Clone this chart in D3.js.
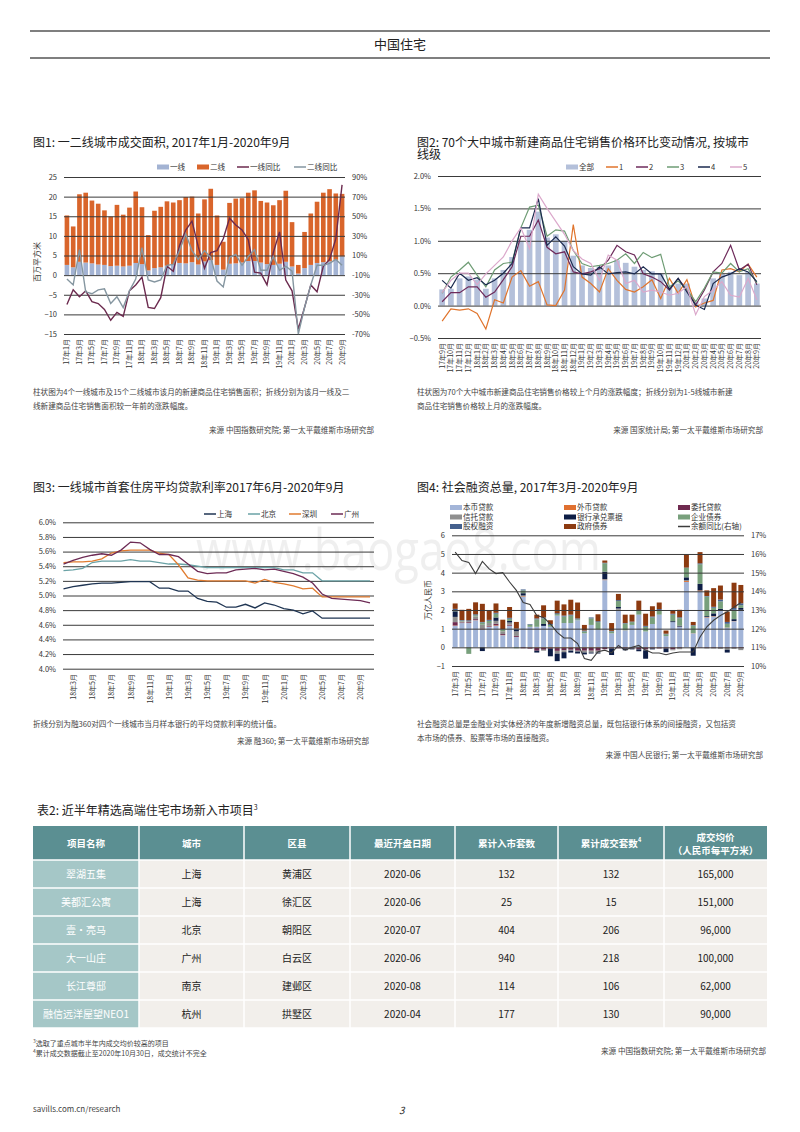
<!DOCTYPE html>
<html>
<head>
<meta charset="utf-8">
<script src="https://cdn.jsdelivr.net/npm/d3@7"></script>
<style>
body { margin: 0; background: #fff; }
svg text { font-family: "Noto Sans CJK SC", "Noto Sans", sans-serif; }
</style>
</head>
<body>
<svg id="page" width="800" height="1132"></svg>
<script>
function monthList(y, m, n) {
  var out = [];
  for (var i = 0; i < n; i++) {
    out.push(String(y).slice(2) + "年" + m + "月");
    m++; if (m > 12) { m = 1; y++; }
  }
  return out;
}

// ---- chart 1 : 一二线城市成交面积 ----
var c1Months = monthList(2017, 1, 45);
var c1Tier1 = [2.6,2.0,3.4,3.2,3.0,2.7,2.6,2.3,2.4,2.2, 2.4,3.1,2.8,1.2,1.8,2.0,2.4,2.7,3.1,3.0,
  3.3,2.7,3.5,3.8,2.6,1.4,2.9,3.0,3.2,3.6, 3.6,3.2,2.8,2.6,2.9,3.4,2.2,0.4,1.8,2.6, 3.1,3.3,3.5,3.9,4.8];
var c1Tier2 = [12.6,10.4,17.2,17.8,16.0,15.5,13.9,12.6,15.5,13.2, 14.8,18.2,14.5,9.0,14.6,15.4,16.4,15.8,16.0,16.9,
  16.7,13.0,15.8,18.2,12.6,7.1,15.5,16.5,16.4,17.4, 18.0,15.7,15.7,15.2,16.2,18.1,11.3,2.2,9.2,13.1, 15.6,17.7,18.4,16.9,15.9];
var c1Tier1Yoy = [-40,-25,-32,-26,-37,-39,-45,-56,-48,-52, -26,-20,-12,-43,-44,-33,-1,-6,20,36,
  45,19,-3,13,15,27,48,41,36,26, -7,-8,-20,13,34,-15,-26,-65,-43,-20, -27,-1,6,27,82];
var c1Tier2Yoy = [-14,-20,16,-27,-29,-25,-24,-39,-32,-43, -26,-14,18,-15,-17,-15,0,1,15,32,
  15,6,15,8,-16,-22,8,11,0,9, 16,-5,-5,9,-5,-1,-6,-70,-43,-20, 0,0,2,6,0];
var c1LeftTicks = [-15,-10,-5,0,5,10,15,20,25];
var c1RightTicks = [-70,-50,-30,-10,10,30,50,70,90];

// ---- chart 2 : 70城环比 ----
var c2Months = monthList(2017, 9, 37);
var c2All = [0.25,0.26,0.42,0.45,0.40,0.26,0.42,0.55,0.75,1.00, 1.17,1.45,1.05,1.10,1.00,0.77,0.62,0.58,0.60,0.62,
  0.70,0.66,0.60,0.55,0.53,0.49,0.29,0.34,0.34,0.06, 0.11,0.42,0.49,0.52,0.47,0.52,0.34];
var c2Tier1 = [-0.24,-0.05,-0.07,-0.05,-0.12,-0.36,0.09,0.04,0.44,0.54, 0.30,0.37,0.01,0.00,0.24,1.25,0.44,0.34,0.21,0.57,
  0.39,0.25,0.21,0.29,0.40,0.11,0.42,0.19,0.40,-0.02, 0.04,0.08,0.55,0.57,0.52,0.64,0.44];
var c2Tier2 = [0.06,0.20,0.20,0.29,0.29,0.13,0.21,0.40,0.60,1.07, 1.07,1.32,0.90,0.80,0.83,0.52,0.49,0.52,0.57,0.70,
  0.93,0.83,0.78,0.49,0.44,0.37,0.24,0.42,0.24,0.01, 0.24,0.52,0.65,0.93,0.55,0.64,0.32];
var c2Tier3 = [0.19,0.44,0.55,0.67,0.47,0.29,0.55,0.65,0.67,1.20, 1.52,1.55,1.07,1.17,1.15,0.85,0.65,0.60,0.62,0.65,
  0.70,0.80,0.65,0.82,0.74,0.79,0.29,0.38,0.25,0.06, 0.27,0.52,0.50,0.65,0.52,0.57,0.35];
var c2Tier4 = [0.39,0.27,0.50,0.39,0.43,0.32,0.39,0.50,0.65,1.20, 1.20,1.65,0.93,1.06,0.92,0.60,0.49,0.47,0.60,0.49,
  0.51,0.52,0.49,0.60,0.49,0.49,0.25,0.42,0.21,0.01, -0.06,0.34,0.44,0.49,0.57,0.52,0.37];
var c2Tier5 = [0.20,0.39,0.50,0.50,0.32,0.49,0.62,0.75,1.00,1.20, 0.88,1.72,1.50,1.30,1.10,0.85,0.72,0.65,0.39,0.78,
  0.70,0.34,0.39,0.21,0.24,0.21,0.16,0.19,0.29,-0.14, 0.14,0.24,0.37,0.16,0.13,0.42,0.09];
var c2Ticks = [-0.5,0,0.5,1.0,1.5,2.0];
var c2SeriesNames = ["1","2","3","4","5"];

// ---- chart 3 : 首套房贷利率 ----
var c3Months = monthList(2018, 2, 33);
var c3Shanghai = [5.09,5.12,5.14,5.16,5.17,5.17,5.18,5.19,5.19,5.19, 5.10,5.10,5.06,5.06,4.96,4.92,4.91,4.84,4.84,4.88,
  4.83,4.90,4.87,4.82,4.80,4.75,4.79,4.69,4.69,4.69, 4.69,4.69,4.69];
var c3Beijing = [5.34,5.35,5.37,5.45,5.47,5.47,5.47,5.49,5.47,5.47, 5.45,5.43,5.43,5.42,5.40,5.38,5.38,5.38,5.38,5.38,
  5.38,5.38,5.38,5.35,5.35,5.31,5.31,5.20,5.20,5.20, 5.20,5.20,5.20];
var c3Shenzhen = [5.45,5.46,5.46,5.47,5.50,5.58,5.61,5.62,5.62,5.62, 5.58,5.56,5.42,5.24,5.21,5.20,5.20,5.20,5.20,5.20,
  5.17,5.22,5.18,5.16,5.13,5.09,5.10,4.98,4.98,4.98, 4.98,4.98,4.98];
var c3Guangzhou = [5.43,5.48,5.52,5.55,5.57,5.55,5.62,5.73,5.72,5.63, 5.56,5.56,5.53,5.43,5.33,5.30,5.31,5.31,5.35,5.36,
  5.37,5.35,5.36,5.33,5.30,5.25,5.17,5.02,4.96,4.95, 4.94,4.93,4.90];
var c3Ticks = [4.0,4.2,4.4,4.6,4.8,5.0,5.2,5.4,5.6,5.8,6.0];
var c3Cities = ["上海","北京","深圳","广州"];

// ---- chart 4 : 社会融资总量 ----
var c4Months = monthList(2017, 3, 43);
var c4Keys = ["本币贷款","外币贷款","委托贷款","信托贷款","银行承兑票据","企业债券","股权融资","政府债券"];
var c4Loans = [1.15,1.30,1.30,1.45,0.95,1.10,1.15,0.65,1.15,0.55, 2.70,1.10,1.10,1.15,1.10,1.70,1.30,1.30,1.45,0.75,
  1.20,0.95,3.60,0.75,2.00,0.90,1.20,1.75,0.85,1.25, 1.75,0.60,1.35,1.10,3.50,0.75,3.00,1.60,1.65,1.95, 1.05,1.40,2.00];
var c4FxLoans = [0.02,0.01,0.01,0.01,0.01,0.01,0.03,0.01,0.01,0.01, 0.03,-0.02,-0.03,-0.03,-0.03,-0.04,-0.04,-0.03,-0.03,-0.03,
  -0.03,-0.03,0.02,-0.01,0.01,-0.01,-0.01,-0.01,-0.01,-0.01, -0.01,-0.01,-0.01,0.01,0.05,0.01,0.05,0.02,0.02,0.01, 0.01,0.01,0.01];
var c4Entrusted = [0.18,0.03,0.04,0.05,0.05,0.04,0.08,0.05,0.05,0.05, -0.05,-0.05,-0.15,-0.10,-0.05,-0.15,-0.12,-0.10,-0.15,-0.15,
  -0.15,-0.15,-0.10,-0.05,-0.05,-0.05,-0.05,-0.10,-0.10,-0.05, -0.05,-0.05,-0.10,-0.05,0.00,-0.02,-0.02,-0.03,-0.03,-0.03, -0.03,-0.03,-0.05];
var c4Trust = [0.28,0.05,0.05,0.15,0.20,0.15,0.16,0.15,0.12,0.25, 0.05,0.00,0.00,-0.05,0.00,-0.15,-0.10,-0.05,-0.05,-0.10,
  -0.10,-0.10,0.03,0.00,0.07,0.02,0.00,0.00,-0.05,0.00, 0.00,0.00,-0.05,-0.05,0.05,0.00,0.00,-0.03,-0.03,-0.05, -0.10,-0.05,-0.10];
var c4Bills = [0.30,0.00,0.00,0.00,-0.20,0.00,0.18,0.00,0.08,0.08, 0.12,0.00,-0.10,0.10,-0.40,-0.40,-0.33,-0.10,-0.10,-0.10,
  -0.05,-0.05,0.40,-0.35,0.08,-0.10,-0.05,-0.10,-0.45,-0.05, 0.00,-0.20,0.05,0.05,0.15,-0.43,0.35,0.05,0.15,0.10, -0.15,0.10,0.10];
var c4CorpBonds = [0.05,0.04,-0.35,0.06,0.12,0.12,0.20,0.10,0.12,-0.05, 0.15,0.12,0.40,0.30,0.10,0.08,0.35,0.40,0.05,0.10,
  0.35,0.40,0.45,0.10,0.32,0.35,0.15,0.20,0.25,0.35, 0.25,0.10,0.35,0.40,0.50,0.40,1.05,1.05,0.30,0.40, 0.20,0.50,0.15];
var c4Equity = [0.08,0.03,0.05,0.05,0.03,0.05,0.05,0.02,0.05,0.07, 0.05,0.03,0.05,0.05,0.05,0.05,0.05,0.05,0.05,0.05,
  0.05,0.05,0.03,0.03,0.05,0.03,0.03,0.05,0.05,0.05, 0.05,0.03,0.05,0.05,0.02,0.03,0.05,0.03,0.05,0.10, 0.10,0.10,0.10];
var c4GovBonds = [0.29,0.55,0.61,0.64,0.97,0.51,0.50,0.50,0.58,0.35, 0.00,0.00,0.20,0.65,0.20,0.67,0.60,0.80,0.85,0.30,
  0.00,0.37,0.12,0.42,0.33,0.45,0.37,0.50,0.65,0.55, 0.35,0.17,0.20,0.40,0.70,0.17,0.60,0.30,1.00,0.75, 0.55,1.35,0.98];
var c4Yoy = [16.1,15.65,15.55,14.95,15.6,15.2,14.95,15.0,14.5,14.05, 13.4,13.3,12.7,12.6,12.25,11.8,11.5,11.5,11.2,10.4,
  10.3,10.77,10.85,10.7,11.1,10.85,11.0,11.1,10.85,10.7, 10.7,10.6,10.7,10.75,10.75,10.75,11.55,12.1,12.45,12.7, 12.9,13.15,13.4];
var c4LeftTicks = [-1,0,1,2,3,4,5,6];
var c4RightTicks = [10,11,12,13,14,15,16,17];

// ---- table ----
var tblHead = ["项目名称","城市","区县","最近开盘日期","累计入市套数","累计成交套数","成交均价"];
var tblNames = ["翠湖五集","美都汇公寓","壹·亮马","大一山庄","长江尊邸","融信远洋屋望NEO1"];
var tblCity = ["上海","上海","北京","广州","南京","杭州"];
var tblDistrict = ["黄浦区","徐汇区","朝阳区","白云区","建邺区","拱墅区"];
var tblDate = ["2020-06","2020-06","2020-07","2020-06","2020-08","2020-04"];
var tblUnits = [132,25,404,940,114,177];
var tblSold = [132,15,206,218,106,130];
var tblPrice = [165000,151000,96000,100000,62000,90000];

var svg = d3.select("#page");
var GRID = "#3a3a3a", TXT = "#333";

// ---------- helpers ----------
function gridLines(g, y, ticks, x0, x1) {
  var ax = g.append("g").attr("transform", "translate(" + x0 + ",0)")
    .call(d3.axisLeft(y).tickValues(ticks).tickSize(-(x1 - x0)).tickFormat(""));
  ax.select(".domain").remove();
  ax.selectAll(".tick line").attr("stroke", GRID).attr("stroke-width", 1);
}
function tickLabels(g, axis, x) {
  var ax = g.append("g").attr("transform", "translate(" + x + ",0)")
    .call(axis.tickSize(0).tickPadding(7));
  ax.attr("font-size", 7.5);
  ax.select(".domain").remove();
  ax.selectAll("text").attr("fill", TXT);
}
function monthLabels(g, x, ticks, y0) {
  var ax = g.append("g").attr("transform", "translate(0," + y0 + ")")
    .call(d3.axisBottom(x).tickValues(ticks).tickSize(0));
  ax.attr("font-size", 7);
  ax.select(".domain").remove();
  ax.selectAll("text")
    .attr("transform", "rotate(-90)")
    .attr("x", -5).attr("y", 0).attr("dy", "0.35em")
    .attr("text-anchor", "end").attr("fill", TXT);
}
function title(x, y, s) {
  return svg.append("text").attr("x", x).attr("y", y).attr("font-size", 12).attr("fill", "#222").text(s);
}
function note(x, y, s, anchor) {
  svg.append("text").attr("x", x).attr("y", y).attr("font-size", 7.6).attr("fill", "#444")
    .attr("text-anchor", anchor || "start").text(s);
}
function legendRect(g, x, y, color, label) {
  g.append("rect").attr("x", x).attr("y", y - 2.5).attr("width", 12).attr("height", 5).attr("fill", color);
  g.append("text").attr("x", x + 13).attr("y", y).attr("dy", "0.35em").attr("font-size", 7.6).attr("fill", TXT).text(label);
}
function legendLine(g, x, y, color, label, w) {
  g.append("line").attr("x1", x).attr("x2", x + (w || 12)).attr("y1", y).attr("y2", y)
    .attr("stroke", color).attr("stroke-width", 1.5);
  g.append("text").attr("x", x + (w || 12) + 1).attr("y", y).attr("dy", "0.35em").attr("font-size", 7.6).attr("fill", TXT).text(label);
}
function sup(t, s, size) {
  t.append("tspan").attr("font-size", size || 6).attr("dy", -5).text(s);
}

// ---------- page header ----------
svg.append("line").attr("x1", 30).attr("x2", 770).attr("y1", 31).attr("y2", 31).attr("stroke", "#555").attr("stroke-width", 1.5);
svg.append("line").attr("x1", 30).attr("x2", 770).attr("y1", 58).attr("y2", 58).attr("stroke", "#555").attr("stroke-width", 1.5);
svg.append("text").attr("x", 400).attr("y", 49).attr("text-anchor", "middle").attr("font-size", 13).attr("fill", "#222").text("中国住宅");

// watermark
svg.append("text").attr("x", 196).attr("y", 570).attr("font-size", 56).attr("fill", "#000").attr("opacity", 0.06)
  .attr("textLength", 405).attr("lengthAdjust", "spacingAndGlyphs")
  .style("font-family", "'Open Sans', sans-serif").text("www.baogao8.com");

// ---------- chart 1 ----------
title(33, 147, "图1: 一二线城市成交面积, 2017年1月-2020年9月");
var g1 = svg.append("g");
var x1 = d3.scaleBand().domain(c1Months).range([64, 345]).paddingInner(0.26).paddingOuter(0.1);
var y1 = d3.scaleLinear().domain([-15, 25]).range([334, 177]);
var y1r = d3.scaleLinear().domain([-70, 90]).range([334, 177]);

g1.append("g").selectAll("rect").data(c1Months).join("rect")
  .attr("x", function (d) { return x1(d); }).attr("width", x1.bandwidth())
  .attr("y", function (d, i) { return y1(c1Tier1[i]); })
  .attr("height", function (d, i) { return y1(0) - y1(c1Tier1[i]); })
  .attr("fill", "#a3b3d3");
g1.append("g").selectAll("rect").data(c1Months).join("rect")
  .attr("x", function (d) { return x1(d); }).attr("width", x1.bandwidth())
  .attr("y", function (d, i) { return y1(c1Tier1[i] + c1Tier2[i]); })
  .attr("height", function (d, i) { return y1(c1Tier1[i]) - y1(c1Tier1[i] + c1Tier2[i]); })
  .attr("fill", "#d9652b");
gridLines(g1, y1, c1LeftTicks, 64, 345);
tickLabels(g1, d3.axisLeft(y1).tickValues(c1LeftTicks).tickFormat(d3.format("d")), 64);
tickLabels(g1, d3.axisRight(y1r).tickValues(c1RightTicks).tickFormat(function (d) { return d + "%"; }), 345);
monthLabels(g1, x1, c1Months.filter(function (d, i) { return i % 2 === 0; }), 334);

var line1 = d3.line().x(function (d, i) { return x1(c1Months[i]) + x1.bandwidth() / 2; }).y(function (d) { return y1r(d); });
g1.append("path").datum(c1Tier1Yoy).attr("d", line1).attr("fill", "none").attr("stroke", "#6b2a4e").attr("stroke-width", 1.4);
g1.append("path").datum(c1Tier2Yoy).attr("d", line1).attr("fill", "none").attr("stroke", "#8596a0").attr("stroke-width", 1.4);

g1.append("text").attr("transform", "translate(40,262) rotate(-90)").attr("text-anchor", "middle")
  .attr("font-size", 8).attr("fill", TXT).text("百万平方米");
legendRect(g1, 157, 167, "#a3b3d3", "一线");
legendRect(g1, 197, 167, "#d9652b", "二线");
legendLine(g1, 237, 167, "#6b2a4e", "一线同比");
legendLine(g1, 294, 167, "#8596a0", "二线同比");

note(33, 395, "柱状图为4个一线城市及15个二线城市该月的新建商品住宅销售面积；折线分别为该月一线及二");
note(33, 409, "线新建商品住宅销售面积较一年前的涨跌幅度。");
note(374, 433, "来源  中国指数研究院; 第一太平戴维斯市场研究部", "end");

// ---------- chart 2 ----------
title(417, 147, "图2:  70个大中城市新建商品住宅销售价格环比变动情况, 按城市");
title(417, 159, "线级");
var g2 = svg.append("g");
var x2 = d3.scaleBand().domain(c2Months).range([438, 761]).paddingInner(0.35).paddingOuter(0.15);
var y2 = d3.scaleLinear().domain([-0.5, 2.0]).range([338, 176]);
g2.append("g").selectAll("rect").data(c2Months).join("rect")
  .attr("x", function (d) { return x2(d); }).attr("width", x2.bandwidth())
  .attr("y", function (d, i) { return Math.min(y2(c2All[i]), y2(0)); })
  .attr("height", function (d, i) { return Math.abs(y2(0) - y2(c2All[i])); })
  .attr("fill", "#b4c0da");
gridLines(g2, y2, c2Ticks, 438, 761);
tickLabels(g2, d3.axisLeft(y2).tickValues(c2Ticks).tickFormat(function (d) { return d3.format(".1f")(d) + "%"; }), 438);
monthLabels(g2, x2, c2Months, 338);

var c2Colors = ["#e0742c", "#6e2b5b", "#6e9c74", "#1b2a4f", "#dba8cb"];
var c2Series = [c2Tier1, c2Tier2, c2Tier3, c2Tier4, c2Tier5];
var line2 = d3.line().x(function (d, i) { return x2(c2Months[i]) + x2.bandwidth() / 2; }).y(function (d) { return y2(d); });
c2Series.forEach(function (s, k) {
  g2.append("path").datum(s).attr("d", line2).attr("fill", "none").attr("stroke", c2Colors[k]).attr("stroke-width", 1.2);
});
legendRect(g2, 566, 167, "#b4c0da", "全部");
legendLine(g2, 606, 167, c2Colors[0], c2SeriesNames[0]);
legendLine(g2, 636, 167, c2Colors[1], c2SeriesNames[1]);
legendLine(g2, 667, 167, c2Colors[2], c2SeriesNames[2]);
legendLine(g2, 698, 167, c2Colors[3], c2SeriesNames[3]);
legendLine(g2, 730, 167, c2Colors[4], c2SeriesNames[4]);

note(417, 395, "柱状图为70个大中城市新建商品住宅销售价格较上个月的涨跌幅度；折线分别为1-5线城市新建");
note(417, 409, "商品住宅销售价格较上月的涨跌幅度。");
note(763, 433, "来源  国家统计局; 第一太平戴维斯市场研究部", "end");

// ---------- chart 3 ----------
title(33, 492, "图3: 一线城市首套住房平均贷款利率2017年6月-2020年9月");
var g3 = svg.append("g");
var x3 = d3.scalePoint().domain(c3Months).range([63.5, 370]);
var y3 = d3.scaleLinear().domain([4.0, 6.0]).range([668.7, 522.3]);
gridLines(g3, y3, c3Ticks, 63, 374);
tickLabels(g3, d3.axisLeft(y3).tickValues(c3Ticks).tickFormat(function (d) { return d3.format(".1f")(d) + "%"; }), 63);
monthLabels(g3, x3, c3Months.filter(function (d, i) { return i % 2 === 1; }), 669);
var c3Colors = ["#1f3553", "#6aa2a6", "#e07b2f", "#6d2b55"];
var c3Series = [c3Shanghai, c3Beijing, c3Shenzhen, c3Guangzhou];
var line3 = d3.line().x(function (d, i) { return x3(c3Months[i]); }).y(function (d) { return y3(d); });
c3Series.forEach(function (s, k) {
  g3.append("path").datum(s).attr("d", line3).attr("fill", "none").attr("stroke", c3Colors[k]).attr("stroke-width", 1.3);
});
legendLine(g3, 204, 514, c3Colors[0], c3Cities[0]);
legendLine(g3, 248, 514, c3Colors[1], c3Cities[1]);
legendLine(g3, 289, 514, c3Colors[2], c3Cities[2]);
legendLine(g3, 331, 514, c3Colors[3], c3Cities[3]);

note(33, 727, "折线分别为融360对四个一线城市当月样本银行的平均贷款利率的统计值。");
note(369, 744, "来源  融360; 第一太平戴维斯市场研究部", "end");

// ---------- chart 4 ----------
title(417, 492, "图4: 社会融资总量, 2017年3月-2020年9月");
var g4 = svg.append("g");
var x4 = d3.scaleBand().domain(c4Months).range([452, 744]).paddingInner(0.27).paddingOuter(0.1);
var y4 = d3.scaleLinear().domain([-1, 6]).range([666, 535.3]);
var y4r = d3.scaleLinear().domain([10, 17]).range([666, 535.3]);
var c4Colors = ["#a3b5d8", "#e07030", "#6f2a4f", "#8f8f8f", "#0d1d45", "#78a07c", "#45618e", "#8c3a10"];
var c4Cols = [c4Loans, c4FxLoans, c4Entrusted, c4Trust, c4Bills, c4CorpBonds, c4Equity, c4GovBonds];
var c4Table = c4Months.map(function (m, i) {
  var row = { month: m };
  c4Keys.forEach(function (k, j) { row[k] = c4Cols[j][i]; });
  return row;
});
var c4Stack = d3.stack().keys(c4Keys).offset(d3.stackOffsetDiverging)(c4Table);
g4.append("g").selectAll("g").data(c4Stack).join("g")
  .attr("fill", function (d, j) { return c4Colors[j]; })
  .selectAll("rect").data(function (d) { return d; }).join("rect")
  .attr("x", function (d) { return x4(d.data.month); }).attr("width", x4.bandwidth())
  .attr("y", function (d) { return y4(Math.max(d[0], d[1])); })
  .attr("height", function (d) { return Math.abs(y4(d[0]) - y4(d[1])); });
gridLines(g4, y4, c4LeftTicks, 452, 744);
tickLabels(g4, d3.axisLeft(y4).tickValues(c4LeftTicks).tickFormat(d3.format("d")), 452);
tickLabels(g4, d3.axisRight(y4r).tickValues(c4RightTicks).tickFormat(function (d) { return d + "%"; }), 744);
monthLabels(g4, x4, c4Months.filter(function (d, i) { return i % 2 === 0; }), 666);
var line4 = d3.line().x(function (d, i) { return x4(c4Months[i]) + x4.bandwidth() / 2; }).y(function (d) { return y4r(d); });
g4.append("path").datum(c4Yoy).attr("d", line4).attr("fill", "none").attr("stroke", "#3d3d3d").attr("stroke-width", 1.1);
g4.append("text").attr("transform", "translate(431,600) rotate(-90)").attr("text-anchor", "middle")
  .attr("font-size", 8).attr("fill", TXT).text("万亿人民币");

var lgX = [450, 564, 678], lgY = [507.5, 517, 526.5];
c4Keys.forEach(function (k, j) {
  legendRect(g4, lgX[j % 3], lgY[Math.floor(j / 3)], c4Colors[j], k);
});
legendLine(g4, 678, 526.5, "#3d3d3d", "余额同比(右轴)");

note(417, 727, "社会融资总量是金融业对实体经济的年度新增融资总量，既包括银行体系的间接融资，又包括资");
note(417, 741, "本市场的债券、股票等市场的直接融资。");
note(763, 758, "来源  中国人民银行; 第一太平戴维斯市场研究部", "end");

// ---------- table ----------
sup(title(37, 815, "表2: 近半年精选高端住宅市场新入市项目"), "3", 7);
var colX = [33, 139, 244, 350, 455, 558, 664, 767];
var headTop = 826, headH = 34, rowH = 28;
var gt = svg.append("g");
gt.append("rect").attr("x", colX[0]).attr("y", headTop).attr("width", colX[7] - colX[0]).attr("height", headH).attr("fill", "#5b8f92");
tblHead.forEach(function (h, c) {
  var cx = (colX[c] + colX[c + 1]) / 2;
  var t = gt.append("text").attr("x", cx).attr("text-anchor", "middle").attr("font-size", 9.5)
    .attr("font-weight", "bold").attr("fill", "#fff");
  if (c === 6) {
    t.attr("y", headTop + 15).text(h);
    gt.append("text").attr("x", cx).attr("y", headTop + 28).attr("text-anchor", "middle").attr("font-size", 9.5)
      .attr("font-weight", "bold").attr("fill", "#fff").text("（人民币每平方米）");
  } else {
    t.attr("y", headTop + headH / 2 + 3.5).text(h);
    if (c === 5) sup(t, "4", 5.5);
  }
});
var rows = tblNames.map(function (n, r) {
  return [n, tblCity[r], tblDistrict[r], tblDate[r], String(tblUnits[r]), String(tblSold[r]), d3.format(",")(tblPrice[r])];
});
rows.forEach(function (row, r) {
  var y = headTop + headH + r * rowH;
  row.forEach(function (v, c) {
    gt.append("rect").attr("x", colX[c]).attr("y", y).attr("width", colX[c + 1] - colX[c]).attr("height", rowH)
      .attr("fill", c === 0 ? "#a5c7c7" : "#f2efeb");
    gt.append("text").attr("x", (colX[c] + colX[c + 1]) / 2).attr("y", y + rowH / 2).attr("dy", "0.35em")
      .attr("text-anchor", "middle").attr("font-size", 10).attr("fill", c === 0 ? "#fff" : "#222").text(v);
  });
});
// white separators
colX.slice(1, 7).forEach(function (x) {
  gt.append("line").attr("x1", x).attr("x2", x).attr("y1", headTop).attr("y2", headTop + headH + 6 * rowH)
    .attr("stroke", "#fff").attr("stroke-width", 1.5);
});
d3.range(7).forEach(function (r) {
  var y = headTop + headH + r * rowH;
  gt.append("line").attr("x1", colX[0]).attr("x2", colX[7]).attr("y1", y).attr("y2", y)
    .attr("stroke", "#fff").attr("stroke-width", 1.5);
});

var fn1 = svg.append("text").attr("x", 33).attr("y", 1046).attr("font-size", 7).attr("fill", "#444");
fn1.append("tspan").attr("font-size", 5).attr("dy", -3).text("3");
fn1.append("tspan").attr("dy", 3).text("选取了重点城市半年内成交均价较高的项目");
var fn2 = svg.append("text").attr("x", 33).attr("y", 1056).attr("font-size", 7).attr("fill", "#444");
fn2.append("tspan").attr("font-size", 5).attr("dy", -3).text("4");
fn2.append("tspan").attr("dy", 3).text("累计成交数据截止至2020年10月30日，成交统计不完全");
note(766, 1054, "来源  中国指数研究院; 第一太平戴维斯市场研究部", "end");

// ---------- footer ----------
svg.append("text").attr("x", 33).attr("y", 1112).attr("font-size", 8).attr("fill", "#444").text("savills.com.cn/research");
svg.append("text").attr("x", 399).attr("y", 1114).attr("font-size", 10).attr("font-style", "italic").attr("fill", "#333").text("3");
</script>
</body>
</html>
